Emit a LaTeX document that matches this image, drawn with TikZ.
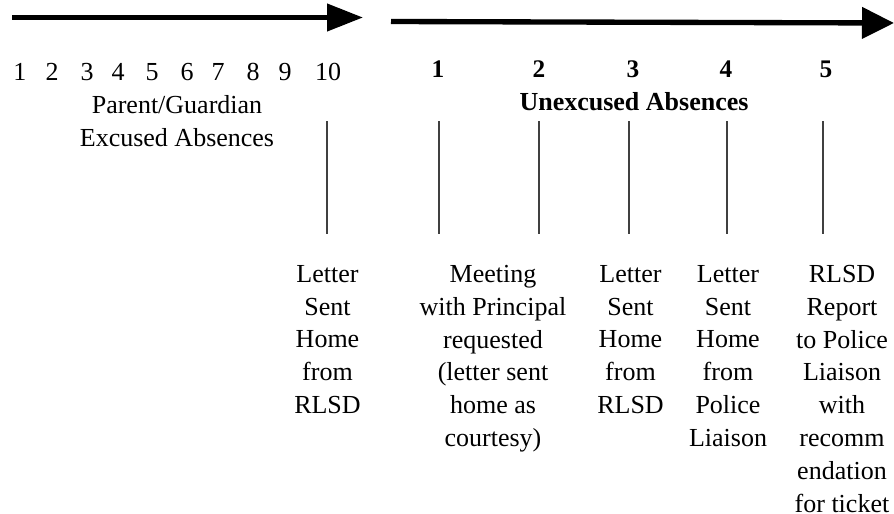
\documentclass[tikz,border=0pt]{standalone}
\usepackage{fontspec}
\setmainfont{Liberation Serif}
\usepackage{tikz}
\usetikzlibrary{arrows.meta}

\tikzset{
    txt/.style={font=\fontsize{19.5}{24.6}\selectfont, inner sep=0pt, align=center},
    bnum/.style={font=\fontsize{19}{22}\selectfont\bfseries, inner sep=0pt, anchor=base},
    tick/.style={line width=1.1pt, black!75}
}

\begin{document}
\begin{tikzpicture}[x=0.75pt,y=0.75pt,yscale=-1,xscale=1]
    \useasboundingbox (0,0) rectangle (894,514);

    %Arrows
    \coordinate (aOneS) at (12,17.5);
    \coordinate (aOneE) at (363,17.5);
    \coordinate (aTwoS) at (391,21.5);
    \coordinate (aTwoE) at (894,23);
    \draw [line width=4pt, -{Triangle[length=27pt,width=20pt]}] (aOneS) -- (aOneE);
    \draw [line width=4pt, -{Triangle[length=24pt,width=23pt]}] (aTwoS) -- (aTwoE);

    %Excused absences
    \foreach \n/\x in {1/20,2/52,3/87,4/118,5/152,6/187,7/218,8/253,9/285,10/328}
        \node [txt, anchor=base] (ex\n) at (\x,80) {\n};
    \node [txt, anchor=north] (parent) at (177,95) {Parent/Guardian\\Excused Absences};

    %Unexcused absences
    \foreach \n/\x in {1/438,2/539,3/633,4/726,5/826}
        \node [bnum] (ux\n) at (\x,77) {\n};
    \node [txt, anchor=base, font=\fontsize{19.5}{24.6}\selectfont\bfseries] (unex) at (634,110) {Unexcused Absences};

    %Ticks
    \foreach \k/\x in {10/327,1/439,2/539,3/629,4/727,5/823} {
        \coordinate (top\k) at (\x,121);
        \coordinate (bot\k) at (\x,234);
        \draw [tick] (top\k) -- (bot\k);
    }

    %Actions
    \node [txt, anchor=north] (act10) at (327.5,265) {Letter\\Sent\\Home\\from\\RLSD};
    \node [txt, anchor=north] (act1) at (493,265) {Meeting\\with Principal\\requested\\(letter sent\\home as\\courtesy)};
    \node [txt, anchor=north] (act3) at (630.5,265) {Letter\\Sent\\Home\\from\\RLSD};
    \node [txt, anchor=north] (act4) at (728,265) {Letter\\Sent\\Home\\from\\Police\\Liaison};
    \node [txt, anchor=north] (act5) at (842,265) {RLSD\\Report\\to Police\\Liaison\\with\\recomm\\endation\\for ticket};

\end{tikzpicture}
\end{document}
